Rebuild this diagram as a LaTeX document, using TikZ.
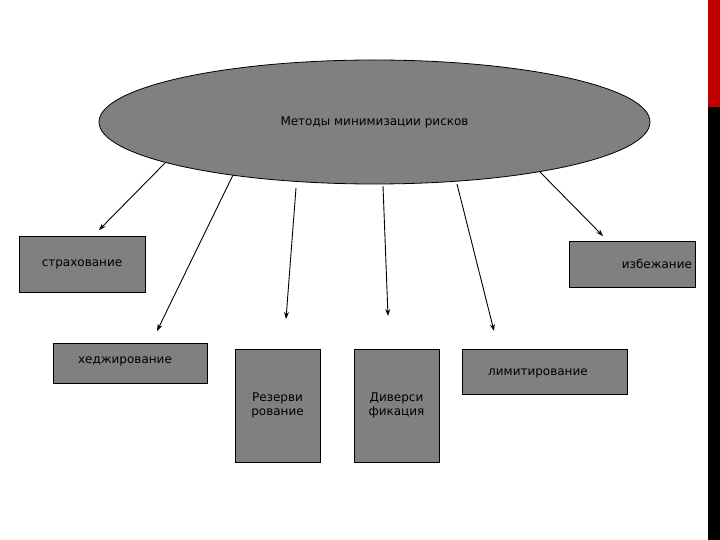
\documentclass[tikz,border=0pt]{standalone}
\usepackage{fontspec}
\setmainfont{DejaVu Sans}
\usetikzlibrary{shapes.geometric,arrows.meta}
\begin{document}
\begin{tikzpicture}[x=1pt,y=-1pt,
 box/.style={draw=black,fill=gray!100!white,fill=black!50,line width=0.8pt,font=\fontsize{12}{14}\selectfont,inner sep=0pt},
 arr/.style={-{Stealth[length=7pt,width=5pt]},line width=0.9pt}]
\useasboundingbox (0,0) rectangle (720,540);
\fill[white] (0,0) rectangle (720,540);
\fill[red!75!black] (708,0) rectangle (720,107);
\fill[black] (708,107) rectangle (720,540);
\node[ellipse,draw,fill=black!50,line width=0.8pt,minimum width=551,minimum height=124,inner sep=0pt,font=\fontsize{12}{14}\selectfont] (e) at (374.5,122) {Методы минимизации рисков};
\node[box,minimum width=126,minimum height=56] (s) at (82,264) {страхование};
\node[box,minimum width=126,minimum height=46,text width=120,align=right] (i) at (632,264) {избежание};
\node[box,minimum width=154,minimum height=40,anchor=north west] (h) at (53,343) {};
\node[font=\fontsize{12}{14}\selectfont] (ht) at (125,361) {хеджирование};
\node[box,minimum width=85,minimum height=113,anchor=north west] (r) at (235,349) {};
\node[font=\fontsize{12}{14}\selectfont,align=center] (rt) at (277.5,405) {Резерви\\рование};
\node[box,minimum width=85,minimum height=113,anchor=north west] (d) at (354,349) {};
\node[font=\fontsize{12}{14}\selectfont,align=center] (dt) at (396.5,405) {Диверси\\фикация};
\node[box,minimum width=165,minimum height=45,anchor=north west] (l) at (462,349) {};
\node[font=\fontsize{12}{14}\selectfont] (lt) at (538,373) {лимитирование};
\coordinate (a1) at (165,163); \coordinate (b1) at (99,230);
\coordinate (a2) at (233,175); \coordinate (b2) at (157,331);
\coordinate (a3) at (296,188); \coordinate (b3) at (286,319);
\coordinate (a4) at (383,186); \coordinate (b4) at (388,316);
\coordinate (a5) at (457,184); \coordinate (b5) at (494,331);
\coordinate (a6) at (540,172); \coordinate (b6) at (603,236);
\foreach \k in {1,...,6} \draw[arr] (a\k) -- (b\k);
\end{tikzpicture}
\end{document}
